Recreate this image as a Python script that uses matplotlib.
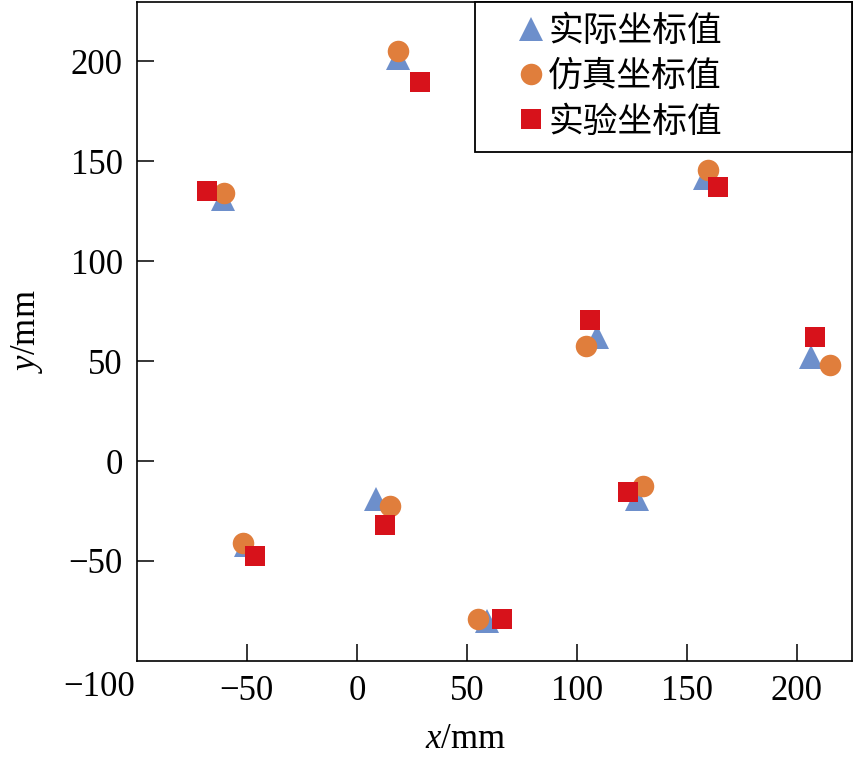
import matplotlib
matplotlib.use("Agg")
import matplotlib.pyplot as plt

plt.rcParams['font.family'] = ['Liberation Serif', 'Noto Sans CJK SC']
plt.rcParams['mathtext.fontset'] = 'custom'
plt.rcParams['mathtext.it'] = 'Liberation Serif:italic'
plt.rcParams['mathtext.rm'] = 'Liberation Serif'

# actual (triangle), simulated (circle), experimental (square) coordinates
actual_x = [-60.9, 18.5, 198.3, 158.0, 109.0, 206.5, 127.5, 8.8, -50.5, 59.0]
actual_y = [131.0, 201.5, 201.5, 141.6, 62.0, 51.9, -19.0, -19.0, -42.0, -80.0]
sim_x = [-60.3, 18.5, 199.7, 159.4, 103.9, 215.1, 130.0, 15.1, -51.8, 55.0]
sim_y = [134.3, 205.0, 204.0, 145.6, 57.5, 47.9, -12.6, -22.6, -40.9, -78.8]
exp_x = [-67.9, 28.8, 189.2, 164.2, 106.0, 208.3, 123.2, 12.7, -46.2, 65.9]
exp_y = [135.3, 189.7, 193.0, 137.2, 70.8, 62.0, -15.6, -31.9, -47.5, -78.8]

labels = ['实际坐标值', '仿真坐标值', '实验坐标值']
xticks = [-50, 0, 50, 100, 150, 200]
yticks = [-50, 0, 50, 100, 150, 200]

fig = plt.figure(figsize=(8.55, 7.57), dpi=100)
ax = fig.add_axes([0.160, 0.127, 0.8365, 0.871])

ax.plot(actual_x, actual_y, linestyle='none', marker='^', markersize=17,
        color='#6d8fcb', markeredgewidth=0, label=labels[0], zorder=3)
ax.plot(sim_x, sim_y, linestyle='none', marker='o', markersize=15.5,
        color='#e07e3c', markeredgewidth=0, label=labels[1], zorder=4)
ax.plot(exp_x, exp_y, linestyle='none', marker='s', markersize=15,
        color='#d7121b', markeredgewidth=0, label=labels[2], zorder=5)

ax.set_xlim(-100, 225)
ax.set_ylim(-100, 230)
ax.set_xticks(xticks)
ax.set_yticks(yticks)
ax.tick_params(direction='in', length=12, width=1.1, labelsize=25, pad=10,
               top=False, right=False)
for s in ax.spines.values():
    s.set_linewidth(1.2)

# shared corner label
ax.text(-0.052, -0.041, '\u2212100', transform=ax.transAxes, fontsize=25,
        ha='center', va='center')

ax.set_xlabel('$\\it{x}$/mm', fontsize=25)
ax.set_ylabel('$\\it{y}$/mm', fontsize=25)
ax.xaxis.set_label_coords(0.459, -0.094)
ax.yaxis.set_label_coords(-0.128, 0.50)

leg = ax.legend(loc='upper right', bbox_to_anchor=(0.473, 0.5, 0.527, 0.5),
                mode='expand', borderaxespad=0, fancybox=False,
                edgecolor='black', framealpha=1,
                handlelength=2.5, handletextpad=-0.75, labelspacing=0.3,
                borderpad=0.35, prop={'family': ['Noto Sans CJK SC'], 'size': 25})
leg.get_frame().set_linewidth(1.3)

fig.savefig('out.png', dpi=100)
